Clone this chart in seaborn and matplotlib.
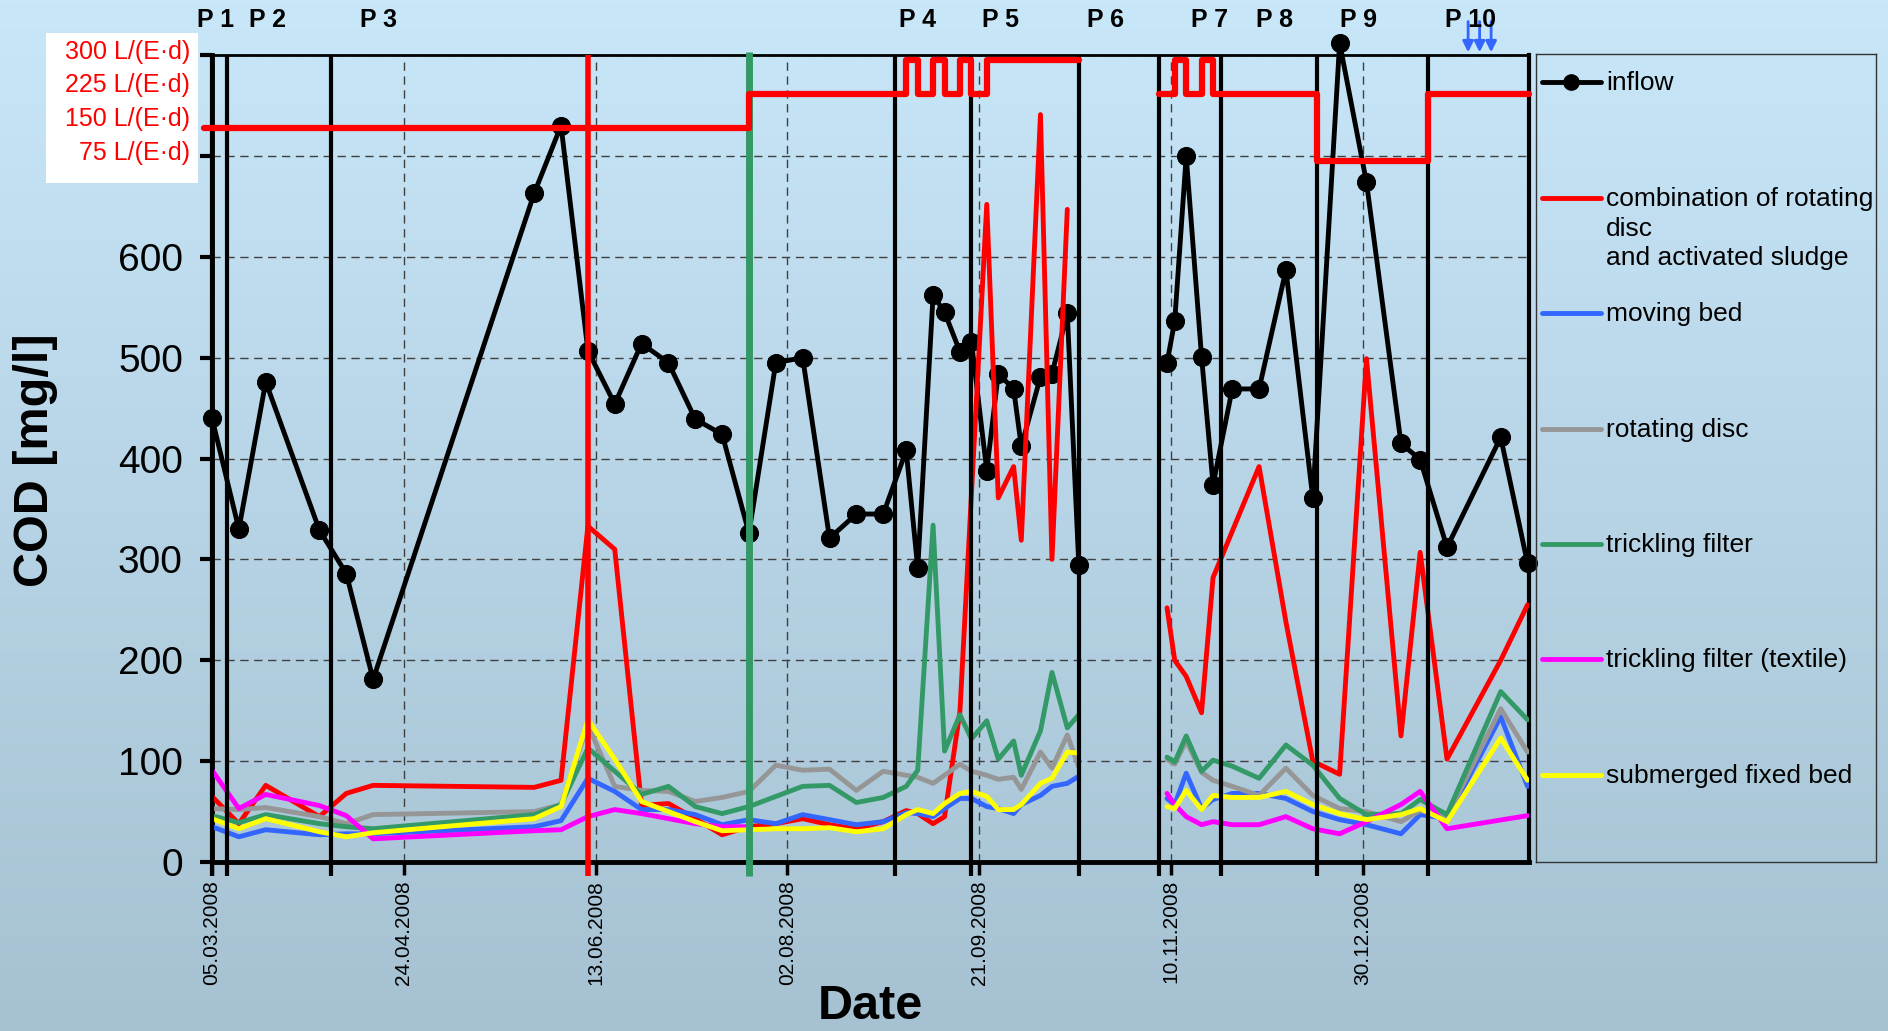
import pandas as pd
import matplotlib
matplotlib.use("Agg")
import matplotlib.pyplot as plt
import numpy as np
import seaborn as sns
from matplotlib.patches import Rectangle
from matplotlib.ticker import FuncFormatter
from datetime import date, timedelta

sns.set_style("ticks")
plt.rcParams['font.family'] = ['Liberation Sans', 'DejaVu Sans']
plt.rcParams.update({"text.color": "black", "axes.labelcolor": "black",
                     "xtick.color": "black", "ytick.color": "black"})

START = date(2008, 3, 5)

# sampling days, counted from 05.03.2008 (two campaigns, break in Oct/Nov)
sample_day = [0, 7, 14, 28, 35, 42, 84, 91, 98, 105, 112, 119, 126, 133, 140, 147, 154,
              161, 168, 175, 181, 184, 188, 191, 195, 198, 202, 205, 209, 211, 216, 219, 223, 226,
              249, 251, 254, 258, 261, 266, 273, 280, 287, 294, 301, 310, 315, 322, 336, 343]
campaign = [0] * 34 + [1] * 16

# COD [mg/l]
inflow = [440, 330, 476, 329, 286, 181, 663, 730, 507, 454, 514, 495, 439, 424, 326, 495, 500,
          321, 345, 345, 408, 291, 562, 545, 506, 516, 388, 484, 469, 412, 481, 484, 544, 294,
          495, 536, 700, 501, 374, 469, 469, 587, 361, 812, 674, 415, 399, 312, 421, 296]
combi = [65, 38, 76, 45, 68, 76, 74, 81, 333, 310, 56, 58, 43, 27, 35, 38, 43,
         37, 33, 40, 51, 48, 38, 45, 149, None, 652, 361, 392, 319, 741, 300, 647, None,
         252, 200, 184, 148, 282, None, 392, 238, 100, 87, 499, 125, 307, 102, 200, 255]
moving_bed = [35, 25, 32, 27, 28, 28, 35, 41, 83, 70, 52, 52, 47, 37, 42, 38, 47,
              42, 37, 40, 49, 48, 45, 53, 63, 63, 55, 53, 48, 57, 66, 75, 78, 85,
              63, 57, 88, 53, 62, 68, 68, 63, 50, 42, 37, 28, 47, 43, 144, 75]
rotating_disc = [53, 52, 54, 45, 38, 47, 50, 57, 136, 75, 71, 70, 60, 64, 70, 96, 91,
                 92, 71, 90, 86, 84, 78, 86, 97, 90, 86, 82, 84, 72, 109, 93, 126, 94,
                 102, 97, 120, 89, 81, 75, 66, 93, 66, 53, 50, 40, 51, 45, 152, 109]
trickling = [46, 39, 47, 38, 35, 33, 47, 57, 113, 90, 67, 75, 55, 48, 55, 65, 75,
             76, 59, 64, 75, 91, 334, 110, 146, 122, 140, 102, 120, 86, 130, 188, 133, 146,
             104, 99, 125, 90, 101, 95, 83, 116, 96, 63, 47, 48, 62, 47, 169, 141]
textile = [91, 53, 67, 56, 46, 23, 31, 32, 45, 52, 48, 43, 38, 35, 35, None, None] + [None] * 17 + \
          [68, 57, 45, 37, 40, 37, 37, 45, 33, 28, 40, 57, 70, 33, None, 46]
submerged = [43, 33, 43, 30, 25, 29, 43, 55, 141, 102, 60, 50, 40, 31, 32, 33, 33,
             34, 30, 33, 47, 52, 48, 58, 68, 70, 65, 52, 52, 57, 78, 83, 109, 108,
             55, 53, 71, 52, 66, 64, 64, 70, 57, 48, 42, 47, 53, 40, 123, 81]

# hydraulic load L/(E·d), step changes
load_day = [-2, 140, 181, 184, 188, 191, 195, 198, 202, 226,
            247, 251, 254, 258, 261, 288, 317, 343.4]
load = [150, 225, 300, 225, 300, 225, 300, 225, 300, 300,
        225, 300, 225, 300, 225, 75, 225, 225]
load_campaign = [0] * 10 + [1] * 8
load_levels = [300, 225, 150, 75]

period_bounds = [0, 4, 31, 178, 198, 226, 247, 263, 288, 317]
red_mark_day = 98
green_mark_day = 140
period_labels = ["P 1", "P 2", "P 3", "P 4", "P 5", "P 6", "P 7", "P 8", "P 9", "P 10"]
period_label_day = [1, 14.5, 43.3, 184, 205.5, 233, 260, 277, 299, 328]
arrow_days = [327.5, 330.5, 333.5]
date_ticks = [0, 50, 100, 150, 200, 250, 300]

series_names = ["combination of rotating\ndisc\nand activated sludge", "moving bed",
                "rotating disc", "trickling filter", "trickling filter (textile)",
                "submerged fixed bed"]
series_values = [combi, moving_bed, rotating_disc, trickling, textile, submerged]
series_colors = ["#FF0000", "#3366FF", "#969696", "#339966", "#FF00FF", "#FFFF00"]

frames = []
for name, vals in zip(series_names, series_values):
    frames.append(pd.DataFrame({"day": sample_day, "seg": campaign, "cod": vals, "series": name}))
eff = pd.concat(frames).dropna()
inf = pd.DataFrame({"day": sample_day, "seg": campaign, "cod": inflow})
ld = pd.DataFrame({"day": load_day, "seg": load_campaign, "load": load})

fig = plt.figure(figsize=(18.88, 10.31), dpi=100)

# gradient background
bg = fig.add_axes([0, 0, 1, 1], zorder=-10)
top = np.array([200, 231, 249]) / 255
bot = np.array([165, 193, 210]) / 255
t = np.linspace(0, 1, 256)[:, None, None]
bg.imshow(top * (1 - t) + bot * t, aspect="auto", extent=[0, 1, 0, 1])
bg.axis("off")

# white box for the load labels
fig.patches.append(Rectangle((0.0244, 0.8225), 0.0805, 0.1455, transform=fig.transFigure,
                             facecolor="white", edgecolor="none", zorder=-5))

ax = fig.add_axes([0.1123, 0.1639, 0.6976, 0.7827])
ax.set_facecolor("none")

sns.lineplot(data=inf, x="day", y="cod", units="seg", estimator=None, color="black",
             lw=3.5, marker="o", markersize=13, markeredgecolor="black", markerfacecolor="black",
             ax=ax, clip_on=False, zorder=3)
sns.lineplot(data=eff, x="day", y="cod", hue="series", units="seg", estimator=None,
             hue_order=series_names, palette=dict(zip(series_names, series_colors)),
             lw=3.5, legend=False, ax=ax, zorder=3)

ax.vlines(period_bounds, -14, 800, colors="black", lw=3, clip_on=False, zorder=5)
ax.vlines(red_mark_day, -14, 800, colors="#FF0000", lw=4, clip_on=False, zorder=6)
ax.vlines(green_mark_day, -14, 803, colors="#339966", lw=5, clip_on=False, zorder=6)

for d in arrow_days:
    ax.annotate("", xy=(d, 800), xytext=(d, 836),
                arrowprops=dict(arrowstyle="-|>", color="#3366FF", lw=2, mutation_scale=16),
                annotation_clip=False)

ax.set_ylim(0, 800)
ax.set_yticks(range(0, 900, 100))
ax.set_yticklabels([str(v) if v <= 600 else "" for v in range(0, 900, 100)])
ax.set_xticks(date_ticks)
ax.xaxis.set_major_formatter(FuncFormatter(
    lambda v, p: (START + timedelta(days=int(round(v)))).strftime("%d.%m.%Y")))
ax.tick_params(axis="y", length=9, width=3, pad=12, labelsize=28, colors="black")
ax.tick_params(axis="x", length=9, width=2.5, pad=4, labelsize=15, rotation=90, colors="black")
ax.grid(True, linestyle=(0, (6, 4)), color="#404040", lw=1)
ax.set_xlabel("")
ax.set_ylabel("")
for side, w in [("left", 3.5), ("bottom", 3.5), ("top", 2), ("right", 3)]:
    ax.spines[side].set_linewidth(w)
    ax.spines[side].set_color("black")

# hydraulic load on a hidden twin scale
ax2 = ax.twinx()
ax2.set_ylim(-1478.7, 311.0)
sns.lineplot(data=ld, x="day", y="load", units="seg", estimator=None, drawstyle="steps-post",
             color="#FF0000", lw=4.5, ax=ax2, clip_on=False, legend=False, zorder=7)
ax2.axis("off")
for lv in load_levels:
    ax2.annotate(f"{lv} L/(E·d)", xy=(0.1006, lv), xycoords=(fig.transFigure, ax2.transData),
                 xytext=(0, 6), textcoords="offset points", ha="right", va="center",
                 color="#FF0000", fontsize=18, annotation_clip=False)

ax.set_xlim(0, 343.4)

tr = matplotlib.transforms.blended_transform_factory(ax.transData, fig.transFigure)
for lab, d in zip(period_labels, period_label_day):
    ax.text(d, 0.981, lab, transform=tr, ha="center", va="center", fontsize=18,
            fontweight="bold", clip_on=False)

fig.text(0.461, 0.012, "Date", ha="center", va="baseline", fontsize=35, fontweight="bold")
fig.text(0.019, 0.554, "COD [mg/l]", ha="center", va="center", rotation=90,
         fontsize=35, fontweight="bold")

# legend panel
lax = fig.add_axes([0.8136, 0.1639, 0.180, 0.7837])
lax.set_facecolor("none")
lax.set_xlim(0, 1)
lax.set_ylim(0, 1)
lax.set_xticks([])
lax.set_yticks([])
for s in lax.spines.values():
    s.set_linewidth(1)
    s.set_color("#333333")
leg_y = [0.9648, 0.8218, 0.6795, 0.5363, 0.3940, 0.2509, 0.1077]
leg_names = ["inflow"] + series_names
leg_colors = ["black"] + series_colors
for i, (name, col, y) in enumerate(zip(leg_names, leg_colors, leg_y)):
    lax.plot([0.017, 0.191], [y, y], color=col, lw=3.5, solid_capstyle="round")
    if i == 0:
        lax.plot([0.104], [y], "o", color="black", markersize=11)
    lax.annotate(name, xy=(0.206, y), xytext=(0, 8), textcoords="offset points",
                 ha="left", va="top", fontsize=19, linespacing=1.3)

fig.savefig("out.png", dpi=100)
